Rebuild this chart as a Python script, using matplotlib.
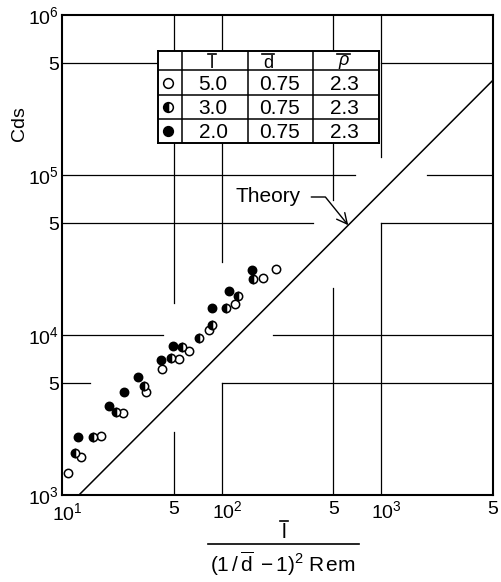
import numpy as np
import matplotlib as mpl
import matplotlib.pyplot as plt
from matplotlib.lines import Line2D
from matplotlib.transforms import ScaledTranslation

mpl.rc('font', family=['Liberation Sans', 'DejaVu Sans'], size=14)
mpl.rc('mathtext', fontset='custom', rm='Liberation Sans',
       it='Liberation Sans:italic', bf='Liberation Sans:bold', default='regular')

# x = l / ((1/d - 1)^2 Rem), y = Cds
open_x = [10.9, 13.1, 17.5, 24.1, 33.6, 42.3, 54.0, 62.4, 83.3, 121, 181, 219]
open_y = [1370, 1730, 2340, 3250, 4400, 6130, 7080, 7940, 10750, 15600, 22700, 25800]
half_x = [12.1, 15.6, 21.8, 32.6, 48.1, 56.4, 72.1, 86.9, 106, 126, 157]
half_y = [1830, 2300, 3300, 4800, 7180, 8410, 9580, 11550, 14750, 17500, 22400]
full_x = [12.6, 19.7, 24.4, 29.9, 41.7, 49.5, 86.9, 111, 155]
full_y = [2300, 3600, 4400, 5470, 6980, 8540, 14750, 18800, 25500]

# theory line: Cds = coef * x
theory_coef = 78.3
theory_x = np.array([12.77, 5000])
theory_note_x = 620

# legend table
l_vals = ['5.0', '3.0', '2.0']
d_vals = ['0.75', '0.75', '0.75']
rho_vals = ['2.3', '2.3', '2.3']

xticks = [10, 50, 100, 500, 1000, 5000]
xticklabels = [r'$10^1$', '5', r'$10^2$', '5', r'$10^3$', '5']
yticks = [1e3, 5e3, 1e4, 5e4, 1e5, 5e5, 1e6]
yticklabels = [r'$10^3$', '5', r'$10^4$', '5', r'$10^5$', '5', r'$10^6$']

W, H = 502, 582


def fig_box(left, top, right, bottom):
    """pixel box -> figure fraction [l, b, w, h]"""
    return [left / W, 1 - bottom / H, (right - left) / W, (bottom - top) / H]


fig = plt.figure(figsize=(W / 100, H / 100), dpi=100)
ax = fig.add_axes(fig_box(62, 15, 493, 495))
ax.set_xscale('log')
ax.set_yscale('log')
ax.set_xlim(10, 5000)
ax.set_ylim(1e3, 1e6)

# broken grid lines, drawn piece by piece
vgrid = [(50, 1e6, 15800), (50, 2480, 1e3),
         (100, 1e6, 28600), (100, 5000, 1e3),
         (500, 1e6, 69800), (500, 19700, 1e3),
         (1000, 1e6, 129600), (1000, 50000, 1e3)]
hgrid = [(5e5, 10, 40), (5e5, 1000, 5000),
         (1e5, 10, 684), (1e5, 1930, 5000),
         (5e4, 10, 373), (5e4, 1000, 5000),
         (1e4, 10, 42.9), (1e4, 209, 5000),
         (5e3, 10, 15), (5e3, 100, 5000)]
for x, y0, y1 in vgrid:
    ax.plot([x, x], [y0, y1], color='k', lw=0.9, zorder=1)
for y, x0, x1 in hgrid:
    ax.plot([x0, x1], [y, y], color='k', lw=0.9, zorder=1)

ax.plot(theory_x, theory_coef * theory_x, color='k', lw=1.1, zorder=2)

mk = dict(linestyle='none', marker='o', ms=6, mew=1.1, mec='k', zorder=3)
ax.plot(open_x, open_y, mfc='white', **mk)
ax.plot(half_x, half_y, fillstyle='left', mfc='k', mfcalt='white', **mk)
ax.plot(full_x, full_y, mfc='k', **mk)

ax.annotate('Theory', xy=(theory_note_x, theory_coef * theory_note_x),
            xytext=(235, H - 197), textcoords='figure pixels',
            ha='left', va='center', fontsize=15,
            arrowprops=dict(arrowstyle='->,head_length=0.5,head_width=0.25',
                            connectionstyle='angle,angleA=0,angleB=129,rad=0',
                            lw=1.0, color='k', shrinkA=6, shrinkB=0))

ax.minorticks_off()
ax.set_xticks(xticks)
ax.set_xticklabels(xticklabels)
ax.set_yticks(yticks)
ax.set_yticklabels(yticklabels)
ax.tick_params(length=0, labelsize=14)
ax.tick_params(axis='x', pad=4)
ax.tick_params(axis='y', pad=2)
for s in ax.spines.values():
    s.set_linewidth(1.5)

# powers of ten: keep the "10" centred on the tick
for i, lab in enumerate(ax.get_xticklabels()):
    if '^' in lab.get_text():
        dy = -0.02 if i == 0 else 0
        lab.set_transform(lab.get_transform()
                          + ScaledTranslation(0.055, dy, fig.dpi_scale_trans))

# legend table
tab = fig.add_axes(fig_box(158, 51, 379, 143))
tab.set_xlim(158, 379)
tab.set_ylim(143, 51)
tab.set_xticks([])
tab.set_yticks([])
for s in tab.spines.values():
    s.set_linewidth(1.4)
for cx in [182, 248, 313]:
    tab.axvline(cx, color='k', lw=1.1)
for ry in [70, 95, 119]:
    tab.axhline(ry, color='k', lw=1.1)

# header: symbols with bars
for hx, sym, base, bar in [(212, 'l', 68, (208, 216)), (268, 'd', 68, (262, 274)),
                           (344, 'ρ', 65, (337, 350))]:
    tab.text(hx, base, sym, ha='center', va='baseline', fontsize=13,
             style='italic' if sym == 'ρ' else 'normal')
    tab.plot(bar, [53.5, 53.5], color='k', lw=1.2)

row_y = [83, 107, 131]
styles = [dict(mfc='white'),
          dict(fillstyle='left', mfc='k', mfcalt='white'),
          dict(mfc='k')]
for yy, l, d, r, st in zip(row_y, l_vals, d_vals, rho_vals, styles):
    tab.plot([168], [yy], linestyle='none', marker='o', ms=7, mew=1.1, mec='k', **st)
    tab.text(213, yy + 1, l, ha='center', va='center', fontsize=15)
    tab.text(280, yy + 1, d, ha='center', va='center', fontsize=15)
    tab.text(344, yy + 1, r, ha='center', va='center', fontsize=15)

# axis titles
fig.text(20 / W, 1 - 124 / H, 'Cds', rotation=90, ha='center', va='center', fontsize=14)
fig.text(284 / W, 1 - 532 / H, 'l', ha='center', va='center', fontsize=15)
fig.add_artist(Line2D([280 / W, 288 / W], [1 - 521 / H] * 2, color='k', lw=1.2))
fig.add_artist(Line2D([208 / W, 359 / W], [1 - 544 / H] * 2, color='k', lw=1.2))
fig.text(283 / W, 1 - 564 / H, r'$(1\,/\,\overline{\mathrm{d}}\;-1)^2\;\mathrm{R\,em}$',
         ha='center', va='center', fontsize=15)

fig.savefig('out.png', dpi=100)
